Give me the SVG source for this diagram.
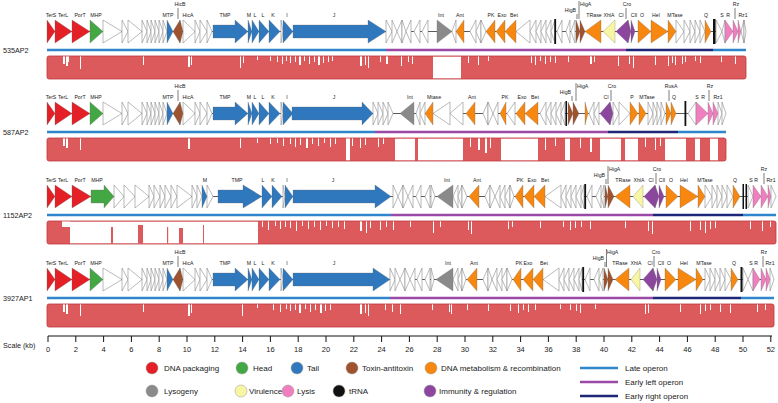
<svg xmlns="http://www.w3.org/2000/svg" xmlns:xlink="http://www.w3.org/1999/xlink" width="778" height="403" viewBox="0 0 778 403">
<style>
text{font-family:"Liberation Sans",Arial,sans-serif;fill:#222}
.gl{font-size:5.2px;text-anchor:middle}
.ge{font-size:5.2px;text-anchor:end}
.gs{font-size:5.2px;text-anchor:start}
.nm{font-size:7.2px}
.sc{font-size:7.5px;text-anchor:middle}
.lg{font-size:8px}
.gw polygon{fill:#fff;stroke:#8c8c8c;stroke-width:0.6}
.col polygon{stroke:#6a6a6a;stroke-width:0.3}
.dp{fill:#e41f26}.hd{fill:#43a843}.tl{fill:#2f78bd}.ta{fill:#a0522d}.dm{fill:#f7870f}
.ly{fill:#8a8a8a}.vi{fill:#f8f6a3}.lx{fill:#f07fc0}.im{fill:#8d45a0}.tr{fill:#111}
.bb{stroke:#111;stroke-width:0.7}
.ld{stroke:#222;stroke-width:0.6}
.op{stroke-width:2.4;fill:none}
.late{stroke:#2f86cc}.eleft{stroke:#9a4aa6}.eright{stroke:#1c2778}
.idf{fill:#dc5a5c}
.gap{fill:#fff}
.ido{fill:none;stroke:#c0393c;stroke-width:0.8}
.tick{stroke:#111;stroke-width:1}
</style>
<defs>
<g id="front">
<g class="gw">
<polygon points="103,0 122,11.5 103,23"/><polygon points="122,0 128,11.5 122,23"/><polygon points="128,0 142,11.5 128,23"/>
<polygon points="142,0 147,11.5 142,23"/><polygon points="147,0 151,11.5 147,23"/><polygon points="151,0 155,11.5 151,23"/>
<polygon points="155,0 159,11.5 155,23"/><polygon points="159,0 163,11.5 159,23"/><polygon points="163,0 167,11.5 163,23"/>
<polygon points="183,0 195,11.5 183,23"/><polygon points="195,0 200,11.5 195,23"/><polygon points="200,0 207,11.5 200,23"/>
<polygon points="207,0 212,11.5 207,23"/><polygon points="281,0 283,11.5 281,23"/>
</g>
<g class="col">
<polygon class="dp" points="47,0 55,11.5 47,23"/><polygon class="dp" points="55,0 72,11.5 55,23"/><polygon class="dp" points="72,0 90,11.5 72,23"/>
<polygon class="hd" points="90,0 103,11.5 90,23"/>
<polygon class="tl" points="167,0 173,11.5 167,23"/>
<polygon class="ta" points="180,0 173,11.5 180,23"/><polygon class="ta" points="180,0 183,11.5 180,23"/>
<polygon class="tl" points="213,5 235,5 235,0 248,11.5 235,23 235,18 213,18"/>
<polygon class="tl" points="248,0 252,11.5 248,23"/><polygon class="tl" points="252,0 259,11.5 252,23"/><polygon class="tl" points="259,0 269,11.5 259,23"/>
<polygon class="tl" points="269,0 280,11.5 269,23"/><polygon class="tl" points="283,0 293,11.5 283,23"/>
</g>
<text class="gl" x="51" y="-3">TerS</text><text class="gl" x="63" y="-3">TerL</text><text class="gl" x="80" y="-3">PorT</text><text class="gl" x="96" y="-3">MHP</text>
<text class="gl" x="168" y="-3">MTP</text><text class="gl" x="180" y="-14">HicB</text><text class="gl" x="188" y="-3">HicA</text>
<text class="gl" x="225" y="-3">TMP</text><text class="gl" x="249" y="-3">M</text><text class="gl" x="255" y="-3">L</text><text class="gl" x="263" y="-3">L</text>
<text class="gl" x="273" y="-3">K</text><text class="gl" x="287" y="-3">I</text>
<line class="ld" x1="178" y1="-12" x2="178" y2="-1"/>
</g>
</defs>

<g id="row-535AP2" transform="translate(0,20)">
<text class="nm" x="3" y="32.5">535AP2</text>
<line class="bb" x1="47" y1="11.5" x2="746" y2="11.5"/>
<use xlink:href="#front"/>
<g class="gw">
<polygon points="386,0 392,11.5 386,23"/><polygon points="392,0 397,11.5 392,23"/><polygon points="402,0 397,11.5 402,23"/><polygon points="402,0 406,11.5 402,23"/>
<polygon points="411,0 406,11.5 411,23"/><polygon points="420,0 414,11.5 420,23"/><polygon points="428,0 422,11.5 428,23"/>
<polygon points="456,0 452,11.5 456,23"/><polygon points="476,0 470,11.5 476,23"/><polygon points="481,0 476,11.5 481,23"/><polygon points="481,0 486,11.5 481,23"/>
<polygon points="530,0 516,11.5 530,23"/><polygon points="536,0 530,11.5 536,23"/><polygon points="541,0 536,11.5 541,23"/><polygon points="546,0 541,11.5 546,23"/>
<polygon points="551,0 546,11.5 551,23"/><polygon points="555,0 551,11.5 555,23"/>
<polygon points="562,0 557,11.5 562,23"/><polygon points="570,0 566,11.5 570,23"/><polygon points="575,0 571,11.5 575,23"/>
<polygon points="676,0 684,11.5 676,23"/><polygon points="684,0 690,11.5 684,23"/><polygon points="690,0 695,11.5 690,23"/><polygon points="695,0 700,11.5 695,23"/><polygon points="700,0 705,11.5 700,23"/>
<polygon points="716,0 722,11.5 716,23"/><polygon points="725,0 722,11.5 725,23"/><polygon points="744,0 741,11.5 744,23"/><polygon points="744,0 746,11.5 744,23"/>
</g>
<g class="col">
<polygon class="tl" points="293,5 368,5 368,0 386,11.5 368,23 368,18 293,18"/>
<polygon class="ly" points="437,0 452,11.5 437,23"/>
<polygon class="dm" points="464,0 456,11.5 464,23"/><polygon class="dm" points="495,0 486,11.5 495,23"/><polygon class="dm" points="505,0 496,11.5 505,23"/><polygon class="dm" points="516,0 505,11.5 516,23"/>
<polygon class="ta" points="576,0 580,11.5 576,23"/><polygon class="ta" points="580,0 585,11.5 580,23"/>
<polygon class="dm" points="601,0 585,11.5 601,23"/><polygon class="vi" points="615,0 603,11.5 615,23"/>
<polygon class="im" points="628,0 616,11.5 628,23"/><polygon class="im" points="628,0 631,11.5 628,23"/><polygon class="im" points="631,0 635,11.5 631,23"/>
<polygon class="dm" points="638,0 651,11.5 638,23"/><polygon class="dm" points="651,0 668,11.5 651,23"/><polygon class="dm" points="668,0 676,11.5 668,23"/>
<polygon class="dm" points="705,0 711,11.5 705,23"/>
<polygon class="lx" points="725,0 733,11.5 725,23"/><polygon class="lx" points="733,0 738,11.5 733,23"/><polygon class="lx" points="738,0 741,11.5 738,23"/>
</g>
<rect class="tr" x="554.3" y="-1" width="1.8" height="25"/><rect class="tr" x="713" y="-1" width="2.5" height="25"/>
<text class="gl" x="334" y="-3">J</text><text class="gl" x="441" y="-3">Int</text><text class="gl" x="460" y="-3">Ant</text>
<text class="gl" x="491" y="-3">PK</text><text class="gl" x="502" y="-3">Exo</text><text class="gl" x="514" y="-3">Bet</text>
<text class="ge" x="576" y="-8">HigB</text><text class="gs" x="580" y="-14">HigA</text>
<text class="gl" x="594" y="-3">TRase</text><text class="gl" x="609" y="-3">XhlA</text><text class="gl" x="621" y="-3">CI</text>
<text class="gl" x="627" y="-14">Cro</text><text class="gl" x="634" y="-3">CII</text><text class="gl" x="642" y="-3">O</text>
<text class="gl" x="656" y="-3">Hel</text><text class="gl" x="675" y="-3">MTase</text><text class="gl" x="706" y="-3">Q</text>
<text class="gl" x="722" y="-3">S</text><text class="gl" x="728" y="-3">R</text><text class="gl" x="736" y="-14">Rz</text><text class="gl" x="743" y="-3">Rz1</text>
<line class="ld" x1="577" y1="-6" x2="577" y2="-1"/><line class="ld" x1="579" y1="-19" x2="579" y2="-1"/>
<line class="ld" x1="626" y1="-12" x2="626" y2="-1"/><line class="ld" x1="735" y1="-12" x2="735" y2="-1"/>
<line class="op late" x1="47" y1="30" x2="386" y2="30"/><line class="op eleft" x1="386" y1="30" x2="626" y2="30"/>
<line class="op eright" x1="626" y1="30" x2="713" y2="30"/><line class="op late" x1="713" y1="30" x2="746" y2="30"/>
<rect class="idf" x="47" y="36" width="699" height="23" rx="2"/>
<path class="gap" d="M63 36h2v8h-2zM66 36h2v10h-2zM68 36h1v6h-1zM80 36h1v13h-1zM143 36h1v9h-1zM188 36h2v11h-2zM191 36h1v9h-1zM240 36h1v12h-1zM243 36h1v7h-1zM257 36h1v4h-1zM270 36h1v5h-1zM277 36h1v6h-1zM282 36h1v8h-1zM286 36h1v5h-1zM290 36h1v7h-1zM295 36h1v6h-1zM299 36h2v9h-2zM304 36h1v5h-1zM309 36h1v8h-1zM314 36h1v6h-1zM318 36h2v9h-2zM323 36h1v7h-1zM328 36h1v6h-1zM332 36h1v5h-1zM360 36h2v10h-2zM365 36h1v9h-1zM368 36h1v12h-1zM380 36h1v6h-1zM386 36h2v8h-2zM401 36h1v10h-1zM408 36h1v6h-1zM412 36h1v8h-1zM433 36.5h28v22h-28zM468 36h1v7h-1zM478 36h1v9h-1zM488 36h1v5h-1zM531 36h1v7h-1zM535 36h1v9h-1zM540 36h1v5h-1zM545 36h1v8h-1zM550 36h1v6h-1zM555 36h1v7h-1zM568 36h1v6h-1zM590 36h2v8h-2zM594 36h1v6h-1zM618 36h1v10h-1zM629 36h1v8h-1zM633 36h1v12h-1zM655 36h1v9h-1zM668 36h1v10h-1zM672 36h1v7h-1zM675 36h1v9h-1zM682 36h1v8h-1zM685 36h1v6h-1zM695 36h1v5h-1zM700 36h1v7h-1zM721 36h1v6h-1zM735 36h1v8h-1z"/>
<rect class="ido" x="47" y="36" width="699" height="23" rx="2"/>
</g>

<g id="row-587AP2" transform="translate(0,102)">
<text class="nm" x="3" y="32.5">587AP2</text>
<line class="bb" x1="47" y1="11.5" x2="726" y2="11.5"/>
<use xlink:href="#front"/>
<g class="gw">
<polygon points="373,0 378,11.5 373,23"/><polygon points="378,0 383,11.5 378,23"/><polygon points="383,0 388,11.5 383,23"/><polygon points="388,0 393,11.5 388,23"/>
<polygon points="420,0 416,11.5 420,23"/><polygon points="425,0 420,11.5 425,23"/><polygon points="450,0 433,11.5 450,23"/><polygon points="463,0 450,11.5 463,23"/>
<polygon points="488,0 483,11.5 488,23"/><polygon points="488,0 493,11.5 488,23"/><polygon points="498,0 493,11.5 498,23"/><polygon points="515,0 507,11.5 515,23"/>
<polygon points="546,0 540,11.5 546,23"/><polygon points="551,0 546,11.5 551,23"/><polygon points="556,0 551,11.5 556,23"/><polygon points="561,0 556,11.5 561,23"/><polygon points="565,0 561,11.5 565,23"/>
<polygon points="594,0 589,11.5 594,23"/><polygon points="599,0 594,11.5 599,23"/><polygon points="613,0 619,11.5 613,23"/><polygon points="619,0 630,11.5 619,23"/>
<polygon points="648,0 653,11.5 648,23"/><polygon points="653,0 657,11.5 653,23"/><polygon points="657,0 661,11.5 657,23"/><polygon points="661,0 665,11.5 661,23"/>
<polygon points="696,0 688,11.5 696,23"/><polygon points="718,0 722,11.5 718,23"/><polygon points="722,0 726,11.5 722,23"/>
</g>
<g class="col">
<polygon class="tl" points="292,5 362,5 362,0 373,11.5 362,23 362,18 292,18"/>
<polygon class="ly" points="414,0 400,11.5 414,23"/>
<polygon class="dm" points="433,0 425,11.5 433,23"/><polygon class="dm" points="475,0 466,11.5 475,23"/><polygon class="dm" points="506,0 500,11.5 506,23"/>
<polygon class="dm" points="525,0 516,11.5 525,23"/><polygon class="dm" points="538,0 525,11.5 538,23"/>
<polygon class="ta" points="568,0 573,11.5 568,23"/><polygon class="ta" points="573,0 579,11.5 573,23"/><polygon class="dm" points="585,0 588,11.5 585,23"/>
<polygon class="im" points="610,0 600,11.5 610,23"/><polygon class="im" points="610,0 613,11.5 610,23"/>
<polygon class="dm" points="630,0 638,11.5 630,23"/><polygon class="dm" points="639,0 646,11.5 639,23"/>
<polygon class="dm" points="666,0 671,11.5 666,23"/><polygon class="dm" points="671,0 676,11.5 671,23"/>
<polygon class="lx" points="696,0 708,11.5 696,23"/><polygon class="lx" points="708,0 713,11.5 708,23"/><polygon class="lx" points="713,0 718,11.5 713,23"/>
</g>
<rect class="tr" x="565.5" y="-1" width="1.5" height="25"/><rect class="tr" x="684.5" y="-1" width="1.8" height="25"/>
<text class="gl" x="334" y="-3">J</text><text class="gl" x="410" y="-3">Int</text><text class="gl" x="434" y="-3">Mtase</text><text class="gl" x="472" y="-3">Ant</text>
<text class="gl" x="505" y="-3">PK</text><text class="gl" x="522" y="-3">Exo</text><text class="gl" x="535" y="-3">Bet</text>
<text class="ge" x="571" y="-8">HigB</text><text class="gs" x="577" y="-14">HigA</text>
<text class="gl" x="606" y="-3">CI</text><text class="gl" x="612" y="-14">Cro</text><text class="gl" x="632" y="-3">P</text><text class="gl" x="647" y="-3">MTase</text>
<text class="gl" x="671" y="-14">RusA</text><text class="gl" x="674" y="-3">Q</text>
<text class="gl" x="697" y="-3">S</text><text class="gl" x="703" y="-3">R</text><text class="gl" x="710" y="-14">Rz</text><text class="gl" x="718" y="-3">Rz1</text>
<line class="ld" x1="572" y1="-6" x2="572" y2="-1"/><line class="ld" x1="576" y1="-19" x2="576" y2="-1"/>
<line class="ld" x1="611" y1="-12" x2="611" y2="-1"/><line class="ld" x1="669" y1="-12" x2="669" y2="-1"/><line class="ld" x1="709" y1="-12" x2="709" y2="-1"/>
<line class="op late" x1="47" y1="30" x2="375" y2="30"/><line class="op eleft" x1="375" y1="30" x2="608" y2="30"/>
<line class="op eright" x1="608" y1="30" x2="678" y2="30"/><line class="op late" x1="678" y1="30" x2="726" y2="30"/>
<rect class="idf" x="47" y="36" width="679" height="23" rx="2"/>
<path class="gap" d="M63 36h2v8h-2zM66 36h2v10h-2zM80 36h1v12h-1zM188 36h2v11h-2zM240 36h1v10h-1zM257 36h1v5h-1zM270 36h1v6h-1zM277 36h1v5h-1zM283 36h1v8h-1zM290 36h1v6h-1zM295 36h1v9h-1zM300 36h1v7h-1zM306 36h2v10h-2zM312 36h1v6h-1zM318 36h1v8h-1zM324 36h1v5h-1zM330 36h1v9h-1zM335 36h1v6h-1zM346 36h4v22.5h-4zM352 36h1v8h-1zM360 36h1v10h-1zM365 36h1v7h-1zM378 36h1v9h-1zM383 36h1v6h-1zM395 36.5h20v22h-20zM418 36.5h45v22h-45zM470 36h1v9h-1zM478 36h2v12h-2zM485 36h2v15h-2zM490 36h1v10h-1zM501 36.5h37v22h-37zM545 36h1v12h-1zM555 36h1v8h-1zM565 36.5h5v22h-5zM580 36h1v10h-1zM590 36h2v14h-2zM600 36.5h21v22h-21zM625 36.5h13v22h-13zM645 36h1v9h-1zM655 36h1v12h-1zM660 36h1v8h-1zM665 36.5h21v22h-21zM695 36.5h5v22h-5zM710 36.5h8v22h-8z"/>
<rect class="ido" x="47" y="36" width="679" height="23" rx="2"/>
</g>

<g id="row-1152AP2" transform="translate(0,185)">
<text class="nm" x="3" y="32.5">1152AP2</text>
<line class="bb" x1="47" y1="11.5" x2="776" y2="11.5"/>
<g class="gw">
<polygon points="114,0 124,11.5 114,23"/><polygon points="124,0 135,11.5 124,23"/><polygon points="135,0 149,11.5 135,23"/><polygon points="149,0 154,11.5 149,23"/>
<polygon points="154,0 160,11.5 154,23"/><polygon points="160,0 165,11.5 160,23"/><polygon points="165,0 171,11.5 165,23"/><polygon points="171,0 177,11.5 171,23"/>
<polygon points="177,0 192,11.5 177,23"/><polygon points="192,0 197,11.5 192,23"/><polygon points="197,0 202,11.5 197,23"/><polygon points="207,0 213,11.5 207,23"/>
<polygon points="283,0 285,11.5 283,23"/>
<polygon points="393,0 398,11.5 393,23"/><polygon points="403,0 398,11.5 403,23"/><polygon points="403,0 408,11.5 403,23"/><polygon points="413,0 408,11.5 413,23"/>
<polygon points="421,0 416,11.5 421,23"/><polygon points="430,0 425,11.5 430,23"/><polygon points="431,0 435,11.5 431,23"/>
<polygon points="458,0 453,11.5 458,23"/><polygon points="462,0 458,11.5 462,23"/><polygon points="462,0 467,11.5 462,23"/>
<polygon points="490,0 485,11.5 490,23"/><polygon points="490,0 495,11.5 490,23"/><polygon points="500,0 495,11.5 500,23"/><polygon points="505,0 500,11.5 505,23"/>
<polygon points="510,0 505,11.5 510,23"/><polygon points="510,0 514,11.5 510,23"/>
<polygon points="561,0 545,11.5 561,23"/><polygon points="566,0 561,11.5 566,23"/><polygon points="571,0 566,11.5 571,23"/><polygon points="576,0 571,11.5 576,23"/>
<polygon points="581,0 576,11.5 581,23"/><polygon points="584,0 581,11.5 584,23"/>
<polygon points="592,0 587,11.5 592,23"/><polygon points="601,0 596,11.5 601,23"/><polygon points="604,0 601,11.5 604,23"/>
<polygon points="705,0 712,11.5 705,23"/><polygon points="712,0 717,11.5 712,23"/><polygon points="717,0 722,11.5 717,23"/><polygon points="722,0 727,11.5 722,23"/><polygon points="727,0 733,11.5 727,23"/>
<polygon points="748,0 753,11.5 748,23"/><polygon points="771,0 776,11.5 771,23"/>
</g>
<g class="col">
<polygon class="dp" points="47,0 55,11.5 47,23"/><polygon class="dp" points="55,0 72,11.5 55,23"/><polygon class="dp" points="72,0 91,11.5 72,23"/>
<polygon class="hd" points="91,5 104,5 104,0 114,11.5 104,23 104,18 91,18"/>
<polygon class="tl" points="202,0 207,11.5 202,23"/>
<polygon class="tl" points="218,5 243,5 243,0 262,11.5 243,23 243,18 218,18"/>
<polygon class="tl" points="262,0 272,11.5 262,23"/><polygon class="tl" points="272,0 282,11.5 272,23"/><polygon class="tl" points="285,0 293,11.5 285,23"/>
<polygon class="tl" points="293,5 375,5 375,0 391,11.5 375,23 375,18 293,18"/>
<polygon class="ly" points="453,0 437,11.5 453,23"/>
<polygon class="dm" points="479,0 469,11.5 479,23"/><polygon class="dm" points="523,0 515,11.5 523,23"/><polygon class="dm" points="534,0 524,11.5 534,23"/><polygon class="dm" points="545,0 534,11.5 545,23"/>
<polygon class="ta" points="605,0 608,11.5 605,23"/><polygon class="ta" points="608,0 614,11.5 608,23"/>
<polygon class="dm" points="630,0 615,11.5 630,23"/><polygon class="vi" points="643,0 633,11.5 643,23"/>
<polygon class="im" points="655,0 644,11.5 655,23"/><polygon class="im" points="655,0 659,11.5 655,23"/><polygon class="im" points="659,0 664,11.5 659,23"/>
<polygon class="dm" points="666,0 678,11.5 666,23"/><polygon class="dm" points="680,0 698,11.5 680,23"/><polygon class="dm" points="698,0 705,11.5 698,23"/>
<polygon class="dm" points="733,0 740,11.5 733,23"/>
<polygon class="lx" points="753,0 761,11.5 753,23"/><polygon class="lx" points="761,0 768,11.5 761,23"/><polygon class="lx" points="768,0 771,11.5 768,23"/>
</g>
<rect class="tr" x="584.3" y="-1" width="1.8" height="25"/><rect class="tr" x="742.5" y="-1" width="1.5" height="25"/><rect class="tr" x="745.5" y="-1" width="1.5" height="25"/>
<text class="gl" x="51" y="-3">TerS</text><text class="gl" x="63" y="-3">TerL</text><text class="gl" x="80" y="-3">PorT</text><text class="gl" x="97" y="-3">MHP</text>
<text class="gl" x="205" y="-3">M</text><text class="gl" x="237" y="-3">TMP</text><text class="gl" x="263" y="-3">L</text><text class="gl" x="273" y="-3">K</text>
<text class="gl" x="287" y="-3">I</text><text class="gl" x="333" y="-3">J</text>
<text class="gl" x="447" y="-3">Int</text><text class="gl" x="477" y="-3">Ant</text><text class="gl" x="520" y="-3">PK</text><text class="gl" x="532" y="-3">Exo</text><text class="gl" x="545" y="-3">Bet</text>
<text class="ge" x="605" y="-8">HigB</text><text class="gs" x="609" y="-14">HigA</text>
<text class="gl" x="623" y="-3">TRase</text><text class="gl" x="639" y="-3">XhlA</text><text class="gl" x="651" y="-3">CI</text>
<text class="gl" x="657" y="-14">Cro</text><text class="gl" x="662" y="-3">CII</text><text class="gl" x="671" y="-3">O</text>
<text class="gl" x="684" y="-3">Hel</text><text class="gl" x="705" y="-3">MTase</text><text class="gl" x="735" y="-3">Q</text>
<text class="gl" x="751" y="-3">S</text><text class="gl" x="756" y="-3">R</text><text class="gl" x="764" y="-14">Rz</text><text class="gl" x="771" y="-3">Rz1</text>
<line class="ld" x1="606" y1="-6" x2="606" y2="-1"/><line class="ld" x1="608" y1="-19" x2="608" y2="-1"/>
<line class="ld" x1="656" y1="-12" x2="656" y2="-1"/><line class="ld" x1="764" y1="-12" x2="764" y2="-1"/>
<line class="op late" x1="47" y1="30" x2="391" y2="30"/><line class="op eleft" x1="391" y1="30" x2="653" y2="30"/>
<line class="op eright" x1="653" y1="30" x2="743" y2="30"/><line class="op late" x1="743" y1="30" x2="776" y2="30"/>
<rect class="idf" x="47" y="36" width="729" height="23" rx="2"/>
<path class="gap" d="M62 36h8v6h-8zM70 36.5h188v22h-188zM262 36h1v6h-1zM268 36h1v9h-1zM275 36h1v5h-1zM280 36h1v8h-1zM285 36h1v6h-1zM290 36h1v7h-1zM296 36h1v10h-1zM302 36h1v5h-1zM308 36h1v8h-1zM314 36h1v6h-1zM320 36h1v9h-1zM326 36h1v5h-1zM332 36h1v7h-1zM338 36h1v6h-1zM344 36h1v8h-1zM360 36h2v10h-2zM366 36h1v12h-1zM370 36h1v7h-1zM380 36h1v9h-1zM386 36h1v6h-1zM393 36h1v9h-1zM410 36h1v6h-1zM433 36h1v12h-1zM440 36h1v6h-1zM468 36h1v9h-1zM471 36h1v13h-1zM508 36h1v8h-1zM512 36h1v6h-1zM540 36h1v7h-1zM563 36h1v6h-1zM570 36h1v9h-1zM575 36h1v7h-1zM581 36h1v6h-1zM590 36h1v8h-1zM625 36h1v7h-1zM648 36h1v10h-1zM652 36h1v13h-1zM690 36h1v10h-1zM700 36h1v9h-1zM705 36h1v12h-1zM710 36h1v8h-1zM715 36h1v7h-1zM750 36h1v8h-1zM762 36h1v10h-1zM770 36h1v6h-1z"/>
<path class="idf" d="M111 42h2v16.5h-2zM138 40h5v18.5h-5zM167 42h1.2v16.5h-1.2zM179 43h4v15.5h-4zM203 40h1v18.5h-1z"/>
<rect class="ido" x="47" y="36" width="729" height="23" rx="2"/>
</g>

<g id="row-3927AP1" transform="translate(0,268)">
<text class="nm" x="3" y="32.5">3927AP1</text>
<line class="bb" x1="47" y1="11.5" x2="774" y2="11.5"/>
<use xlink:href="#front"/>
<g class="gw">
<polygon points="390,0 395,11.5 390,23"/><polygon points="395,0 400,11.5 395,23"/><polygon points="405,0 400,11.5 405,23"/><polygon points="405,0 410,11.5 405,23"/>
<polygon points="415,0 410,11.5 415,23"/><polygon points="422,0 417,11.5 422,23"/><polygon points="430,0 425,11.5 430,23"/><polygon points="431,0 434,11.5 431,23"/>
<polygon points="458,0 453,11.5 458,23"/><polygon points="462,0 458,11.5 462,23"/><polygon points="462,0 466,11.5 462,23"/>
<polygon points="488,0 483,11.5 488,23"/><polygon points="488,0 492,11.5 488,23"/><polygon points="497,0 492,11.5 497,23"/><polygon points="502,0 497,11.5 502,23"/>
<polygon points="507,0 502,11.5 507,23"/><polygon points="507,0 512,11.5 507,23"/>
<polygon points="559,0 543,11.5 559,23"/><polygon points="564,0 559,11.5 564,23"/><polygon points="569,0 564,11.5 569,23"/><polygon points="574,0 569,11.5 574,23"/>
<polygon points="579,0 574,11.5 579,23"/><polygon points="582,0 579,11.5 582,23"/>
<polygon points="590,0 585,11.5 590,23"/><polygon points="599,0 594,11.5 599,23"/><polygon points="603,0 599,11.5 603,23"/>
<polygon points="705,0 710,11.5 705,23"/><polygon points="710,0 715,11.5 710,23"/><polygon points="715,0 720,11.5 715,23"/><polygon points="720,0 725,11.5 720,23"/><polygon points="725,0 731,11.5 725,23"/>
<polygon points="743,0 748,11.5 743,23"/><polygon points="753,0 748,11.5 753,23"/><polygon points="770,0 774,11.5 770,23"/>
</g>
<g class="col">
<polygon class="tl" points="293,5 373,5 373,0 390,11.5 373,23 373,18 293,18"/>
<polygon class="ly" points="453,0 436,11.5 453,23"/>
<polygon class="dm" points="477,0 467,11.5 477,23"/><polygon class="dm" points="521,0 513,11.5 521,23"/><polygon class="dm" points="533,0 523,11.5 533,23"/><polygon class="dm" points="543,0 533,11.5 543,23"/>
<polygon class="ta" points="604,0 608,11.5 604,23"/><polygon class="ta" points="608,0 613,11.5 608,23"/>
<polygon class="dm" points="629,0 615,11.5 629,23"/><polygon class="vi" points="640,0 631,11.5 640,23"/>
<polygon class="im" points="653,0 643,11.5 653,23"/><polygon class="im" points="653,0 657,11.5 653,23"/><polygon class="im" points="657,0 661,11.5 657,23"/>
<polygon class="dm" points="665,0 676,11.5 665,23"/><polygon class="dm" points="678,0 696,11.5 678,23"/><polygon class="dm" points="696,0 703,11.5 696,23"/>
<polygon class="dm" points="731,0 738,11.5 731,23"/>
<polygon class="lx" points="753,0 760,11.5 753,23"/><polygon class="lx" points="761,0 766,11.5 761,23"/><polygon class="lx" points="766,0 770,11.5 766,23"/>
</g>
<rect class="tr" x="582.3" y="-1" width="1.8" height="25"/><rect class="tr" x="740.5" y="-1" width="2" height="25"/>
<text class="gl" x="334" y="-3">J</text><text class="gl" x="448" y="-3">Int</text><text class="gl" x="474" y="-3">Ant</text>
<text class="gl" x="519" y="-3">PK</text><text class="gl" x="528" y="-3">Exo</text><text class="gl" x="544" y="-3">Bet</text>
<text class="ge" x="604" y="-8">HigB</text><text class="gs" x="607" y="-14">HigA</text>
<text class="gl" x="620" y="-3">TRase</text><text class="gl" x="636" y="-3">XhlA</text><text class="gl" x="650" y="-3">CI</text>
<text class="gl" x="656" y="-14">Cro</text><text class="gl" x="661" y="-3">CII</text><text class="gl" x="669" y="-3">O</text>
<text class="gl" x="684" y="-3">Hel</text><text class="gl" x="704" y="-3">MTase</text><text class="gl" x="734" y="-3">Q</text>
<text class="gl" x="751" y="-3">S</text><text class="gl" x="756" y="-3">R</text><text class="gl" x="764" y="-14">Rz</text><text class="gl" x="770" y="-3">Rz1</text>
<line class="ld" x1="605" y1="-6" x2="605" y2="-1"/><line class="ld" x1="606.5" y1="-19" x2="606.5" y2="-1"/>
<line class="ld" x1="654" y1="-12" x2="654" y2="-1"/><line class="ld" x1="763" y1="-12" x2="763" y2="-1"/>
<line class="op late" x1="47" y1="30" x2="390" y2="30"/><line class="op eleft" x1="390" y1="30" x2="653" y2="30"/>
<line class="op eright" x1="653" y1="30" x2="741" y2="30"/><line class="op late" x1="741" y1="30" x2="774" y2="30"/>
<rect class="idf" x="47" y="36" width="727" height="23" rx="2"/>
<path class="gap" d="M63 36h2v8h-2zM66 36h2v10h-2zM80 36h1v12h-1zM143 36h1v8h-1zM188 36h2v12h-2zM191 36h1v9h-1zM242 36h1v12h-1zM257 36h1v4h-1zM273 36h1v6h-1zM280 36h1v8h-1zM286 36h1v5h-1zM290 36h1v7h-1zM295 36h1v6h-1zM299 36h2v9h-2zM305 36h1v5h-1zM310 36h1v8h-1zM315 36h1v6h-1zM320 36h2v9h-2zM325 36h1v7h-1zM330 36h1v6h-1zM360 36h2v10h-2zM365 36h1v9h-1zM368 36h1v12h-1zM385 36h1v6h-1zM392 36h1v8h-1zM400 36h1v10h-1zM432 36h1v6h-1zM449 36h1v8h-1zM451 36h1v10h-1zM467 36h1v6h-1zM488 36h1v7h-1zM510 36h1v7h-1zM518 36h1v9h-1zM523 36h1v6h-1zM528 36h1v8h-1zM535 36h1v6h-1zM560 36h1v5h-1zM570 36h1v6h-1zM576 36h1v7h-1zM580 36h1v9h-1zM595 36h1v5h-1zM645 36h1v10h-1zM648 36h1v9h-1zM680 36h1v8h-1zM700 36h1v10h-1zM705 36h1v7h-1zM710 36h1v6h-1zM720 36h1v8h-1zM730 36h1v9h-1zM757 36h1v8h-1zM765 36h1v6h-1z"/>
<rect class="ido" x="47" y="36" width="727" height="23" rx="2"/>
</g>

<g id="scale">
<text class="nm" x="3" y="348">Scale (kb)</text>
<line class="tick" x1="48" y1="336" x2="772" y2="336"/>
<path class="tick" d="M48 336v6M75.8 336v6M103.6 336v6M131.4 336v6M159.2 336v6M187 336v6M214.8 336v6M242.6 336v6M270.4 336v6M298.2 336v6M326 336v6M353.8 336v6M381.6 336v6M409.4 336v6M437.2 336v6M465 336v6M492.8 336v6M520.6 336v6M548.4 336v6M576.2 336v6M604 336v6M631.8 336v6M659.6 336v6M687.4 336v6M715.2 336v6M743 336v6M770.8 336v6"/>
<text class="sc" x="48" y="352">0</text><text class="sc" x="75.8" y="352">2</text><text class="sc" x="103.6" y="352">4</text><text class="sc" x="131.4" y="352">6</text>
<text class="sc" x="159.2" y="352">8</text><text class="sc" x="187" y="352">10</text><text class="sc" x="214.8" y="352">12</text><text class="sc" x="242.6" y="352">14</text>
<text class="sc" x="270.4" y="352">16</text><text class="sc" x="298.2" y="352">18</text><text class="sc" x="326" y="352">20</text><text class="sc" x="353.8" y="352">22</text>
<text class="sc" x="381.6" y="352">24</text><text class="sc" x="409.4" y="352">26</text><text class="sc" x="437.2" y="352">28</text><text class="sc" x="465" y="352">30</text>
<text class="sc" x="492.8" y="352">32</text><text class="sc" x="520.6" y="352">34</text><text class="sc" x="548.4" y="352">36</text><text class="sc" x="576.2" y="352">38</text>
<text class="sc" x="604" y="352">40</text><text class="sc" x="631.8" y="352">42</text><text class="sc" x="659.6" y="352">44</text><text class="sc" x="687.4" y="352">46</text>
<text class="sc" x="715.2" y="352">48</text><text class="sc" x="743" y="352">50</text><text class="sc" x="770.8" y="352">52</text>
</g>

<g id="legend">
<g stroke="#999" stroke-width="0.5">
<circle class="dp" cx="152" cy="368" r="6"/><circle class="hd" cx="242" cy="368" r="6"/><circle class="tl" cx="297" cy="368" r="6"/>
<circle class="ta" cx="352" cy="368" r="6"/><circle class="dm" cx="431" cy="368" r="6"/>
<circle class="ly" cx="152" cy="391" r="6"/><circle class="vi" cx="241" cy="391" r="6"/><circle class="lx" cx="288" cy="391" r="6"/>
<circle class="tr" cx="339" cy="391" r="6"/><circle class="im" cx="430" cy="391" r="6"/>
</g>
<text class="lg" x="164" y="370.8">DNA packaging</text><text class="lg" x="253" y="370.8">Head</text><text class="lg" x="307" y="370.8">Tail</text>
<text class="lg" x="362" y="370.8">Toxin-antitoxin</text><text class="lg" x="441" y="370.8">DNA metabolism &amp; recombination</text>
<text class="lg" x="164" y="393.8">Lysogeny</text><text class="lg" x="249" y="393.8">Virulence</text><text class="lg" x="297" y="393.8">Lysis</text>
<text class="lg" x="349" y="393.8">tRNA</text><text class="lg" x="439" y="393.8">Immunity &amp; regulation</text>
<line class="op late" x1="580" y1="368" x2="618" y2="368"/><line class="op eleft" x1="580" y1="382" x2="618" y2="382"/><line class="op eright" x1="580" y1="396" x2="618" y2="396"/>
<text class="lg" x="625" y="370.8">Late operon</text><text class="lg" x="625" y="384.8">Early left operon</text><text class="lg" x="625" y="398.8">Early right operon</text>
</g>
</svg>
